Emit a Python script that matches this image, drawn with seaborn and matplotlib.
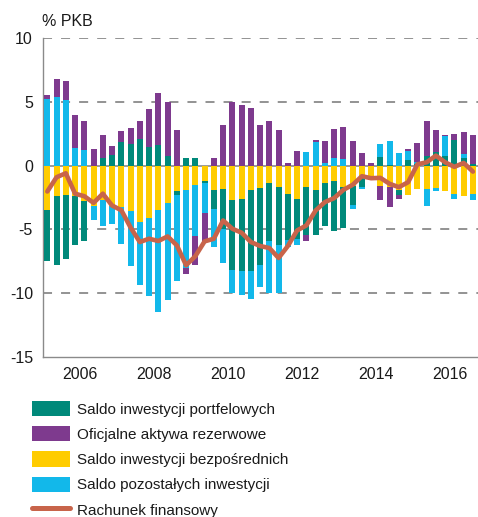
import numpy as np
import pandas as pd
import matplotlib
matplotlib.use("Agg")
import matplotlib.pyplot as plt
import seaborn as sns
from matplotlib.patches import Patch
from matplotlib.lines import Line2D

# Quarterly data, 2005Q1 - 2016Q3, % of GDP
years = np.repeat(np.arange(2005, 2017), 4)[:47]
quarters = np.tile([1, 2, 3, 4], 12)[:47]

portfolio = [-4.01, -5.42, -5.05, -3.83, -3.13, 0.0, 0.63, 0.81, 1.82, 1.67,
             2.08, 1.48, 1.59, 0.73, -0.34, 0.63, 0.60, -0.18, -1.56, -3.13,
             -5.47, -5.68, -6.30, -6.04, -4.56, -4.50, -3.57, -3.13, -3.78, -3.57,
             -3.39, -3.91, -3.18, -1.51, -0.65, -0.30, 0.70, 0.05, -0.39, 0.44,
             0.10, 0.73, 1.04, 0.73, 2.03, 0.60, 0.13]
reserves = [0.31, 1.48, 1.51, 2.60, 2.21, 1.30, 1.74, 0.73, 0.89, 1.30,
            1.41, 2.94, 4.09, 4.27, 2.81, -0.44, -2.27, -2.29, 0.63, 3.20,
            4.95, 4.77, 4.48, 3.18, 3.49, 2.81, 0.23, 1.12, -0.47, 0.21,
            1.69, 2.27, 2.53, 1.90, 0.99, 0.18, -1.12, -1.61, -0.34, 0.13,
            1.48, 2.73, 1.77, 0.10, 0.44, 1.69, 2.27]
fdi = [-3.46, -2.40, -2.29, -2.42, -2.81, -3.20, -2.73, -3.13, -3.26, -3.57,
       -4.43, -4.11, -3.46, -2.92, -2.00, -1.88, -1.51, -1.17, -1.88, -1.82,
       -2.73, -2.60, -1.95, -1.77, -1.35, -1.69, -2.24, -2.60, -1.64, -1.90,
       -1.35, -1.22, -1.69, -1.61, -1.00, -0.85, -1.56, -1.64, -1.88, -2.34,
       -1.85, -1.82, -1.77, -2.03, -2.21, -2.42, -2.21]
other = [5.20, 5.34, 5.13, 1.38, 1.25, -1.07, -2.00, -1.48, -2.92, -4.30,
         -4.95, -6.09, -8.05, -7.63, -6.72, -6.15, -4.04, -2.34, -2.94, -2.66,
         -1.77, -1.88, -2.21, -1.74, -4.06, -3.78, -0.55, -0.52, 1.04, 1.82,
         0.21, 0.60, 0.52, -0.26, -0.15, 0.0, 0.99, 1.85, 0.99, 0.70,
         0.20, -1.35, -0.26, 1.56, -0.39, 0.31, -0.52]
financial_account = [-2.03, -0.91, -0.60, -2.20, -2.40, -2.92, -2.20, -3.13, -3.50, -4.85,
                     -5.99, -5.73, -5.91, -5.55, -6.25, -7.81, -7.10, -5.94, -5.73, -4.30,
                     -4.95, -5.26, -5.99, -6.30, -6.46, -7.24, -6.30, -5.08, -4.69, -3.52,
                     -2.86, -2.55, -1.90, -1.51, -0.83, -0.99, -0.96, -1.43, -1.69, -1.30,
                     0.10, 0.26, 0.78, 0.26, -0.10, 0.21, -0.47]

series_labels = {
    "portfolio": "Saldo inwestycji portfelowych",
    "reserves": "Oficjalne aktywa rezerwowe",
    "fdi": "Saldo inwestycji bezpośrednich",
    "other": "Saldo pozostałych inwestycji",
    "financial": "Rachunek finansowy",
}
colors = {
    "portfolio": "#00897a",
    "reserves": "#7e3a8e",
    "fdi": "#ffcc00",
    "other": "#12b8ea",
    "financial": "#c8644a",
}
year_ticks = np.arange(2005, 2017)
year_labels = [str(y) if y % 2 == 0 else "" for y in year_ticks]
y_ticks = [10, 5, 0, -5, -10, -15]

sns.set_style("white")
plt.rcParams["font.family"] = ["Liberation Sans", "DejaVu Sans"]
plt.rcParams["axes.unicode_minus"] = False

df = pd.DataFrame({
    "year": years, "quarter": quarters,
    "portfolio": portfolio, "reserves": reserves, "fdi": fdi,
    "other": other, "financial": financial_account,
})
df["x"] = df["year"] + (df["quarter"] - 0.5) / 4

fig = plt.figure(figsize=(4.78, 5.17), dpi=100)
ax = fig.add_axes([0.0893, 0.3095, 0.9097, 0.617])

grid_col = "#8a8a8a"
for yv in [10, 5, -5, -10]:
    ax.axhline(yv, color=grid_col, lw=1.3, ls=(0, (5, 5)), zorder=1)
ax.axhline(0, color=grid_col, lw=1.2, zorder=2)

# stacked bars, positive and negative parts stacked separately
stack_order = ["fdi", "portfolio", "other", "reserves"]
pos_base = np.zeros(len(df))
neg_base = np.zeros(len(df))
for key in stack_order:
    v = df[key].to_numpy(dtype=float)
    bottom = np.where(v >= 0, pos_base, neg_base)
    ax.bar(df["x"], v, bottom=bottom, width=0.165, color=colors[key],
           linewidth=0, zorder=3)
    pos_base += np.clip(v, 0, None)
    neg_base += np.clip(v, None, 0)

sns.lineplot(data=df, x="x", y="financial", ax=ax, color=colors["financial"],
             linewidth=3.3, zorder=4, legend=False, solid_capstyle="round")

ax.set_xlim(2005, 2016.75)
ax.set_ylim(-15, 10)
ax.set_xticks(year_ticks)
ax.set_xticklabels(year_labels)
ax.set_yticks(y_ticks)
ax.set_yticklabels([str(t) for t in y_ticks])
ax.set_xlabel("")
ax.set_ylabel("")
for side in ["top", "right"]:
    ax.spines[side].set_visible(False)
for side in ["left", "bottom"]:
    ax.spines[side].set_color(grid_col)
    ax.spines[side].set_linewidth(1.0)
ax.tick_params(axis="both", direction="out", length=3, width=1.0, color=grid_col,
               labelsize=11.5, labelcolor="#1a1a1a")
ax.tick_params(axis="y", pad=4)
ax.tick_params(axis="x", pad=4)

fig.text(41.7 / 478, 1 - 26.5 / 517, "% PKB", fontsize=11.5, ha="left",
         va="baseline", color="#1a1a1a")

handles = [Patch(facecolor=colors[k], edgecolor="none", label=series_labels[k])
           for k in ["portfolio", "reserves", "fdi", "other"]]
handles.append(Line2D([0], [0], color=colors["financial"], lw=3.6,
                      solid_capstyle="round", label=series_labels["financial"]))
fig.legend(handles=handles, loc="upper left", bbox_to_anchor=(32 / 478, 1 - 401 / 517),
           frameon=False, fontsize=11, borderpad=0, borderaxespad=0,
           handlelength=2.5, handleheight=1.15, handletextpad=0.45,
           labelspacing=0.62, labelcolor="#1a1a1a")

fig.savefig("out.png", dpi=100)
